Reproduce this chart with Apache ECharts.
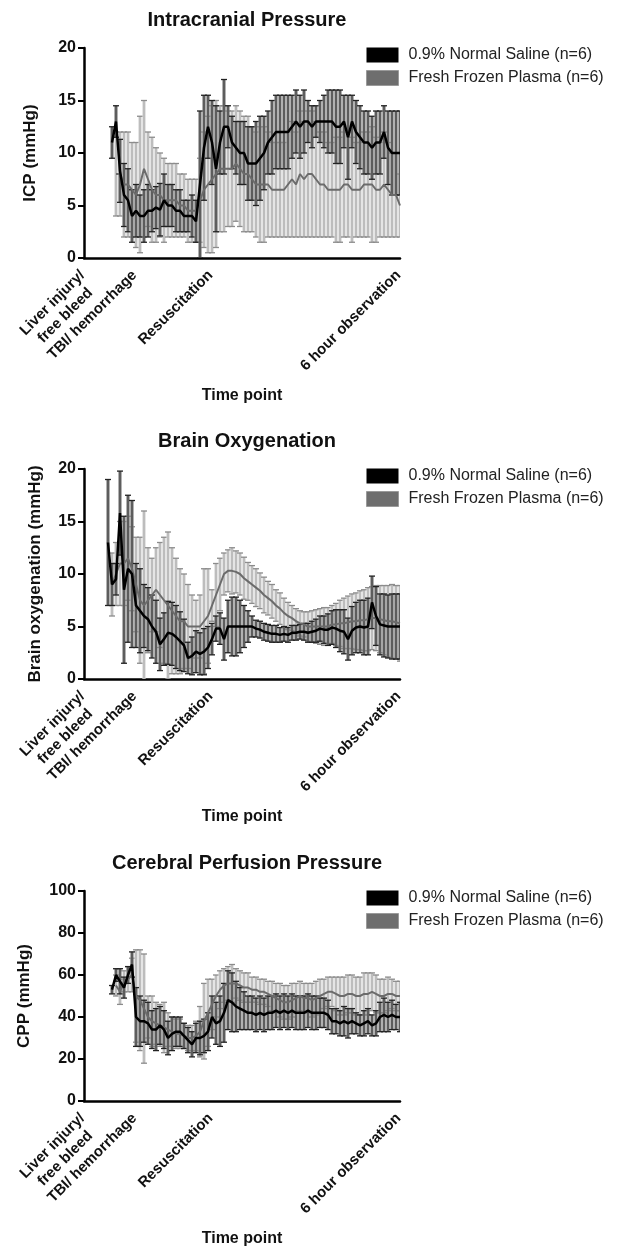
<!DOCTYPE html>
<html>
<head>
<meta charset="utf-8">
<script src="https://cdn.jsdelivr.net/npm/echarts@6/dist/echarts.min.js"></script>
<style>
  html, body { margin: 0; padding: 0; background: #fff; }
  #chart { width: 630px; height: 1247px; }
</style>
</head>
<body>
<div id="chart"></div>
<script>
/* time axis: 80 sample points, only 4 of them labelled */
var pointCount = 80;
var tickIndex = [0, 13, 32, 79];
var tickLabels = ['Liver injury/\nfree bleed', 'TBI/ hemorrhage', 'Resuscitation', '6 hour observation'];
var seriesNames = ['0.9% Normal Saline (n=6)', 'Fresh Frozen Plasma (n=6)'];

/* Intracranial pressure (mmHg) */
var icpSalineStart = 7;
var icpSalineMean = [11, 13, 8.3, 6, 5.5, 4, 4.5, 4, 4, 4.5,
  4.5, 4.8, 4.6, 5.5, 5, 5, 4.5, 4.5, 4, 4,
  4, 3.5, 7, 10.5, 12.5, 11, 8.5, 11, 12.5, 12.5,
  11, 10.5, 10, 10, 9, 9, 9, 9.5, 10, 11,
  11.5, 12, 12, 12, 12, 12.5, 13, 12.5, 13, 13,
  12.5, 13, 13, 13, 13, 13, 12.5, 12.5, 13, 11.5,
  13, 12, 11.5, 11, 11, 10.5, 11, 11, 12, 10.5,
  10, 10, 10];
var icpSalineSd = [1.5, 1.5, 3, 3, 3, 2.5, 2.5, 2, 2.5, 2.5,
  2, 2, 2.5, 2.5, 2, 2, 2, 2, 1.5, 1.5,
  2, 2, 7, 5, 3, 4, 6, 3, 4.5, 2,
  2.5, 2.5, 3, 3, 3.5, 3.5, 4, 4, 3.5, 3,
  3.5, 3.5, 3.5, 3.5, 3.5, 3, 3, 3, 3, 2,
  2, 1.5, 2, 2.5, 3, 3, 3.5, 3.5, 2.5, 4,
  2.5, 3, 3, 3, 3, 3, 3, 3, 2.5, 3.5,
  4, 4, 4];
var icpPlasmaStart = 8;
var icpPlasmaMean = [8, 8, 7, 7, 6.5, 6, 7, 8.5, 7.5, 6.5,
  6, 6, 5.5, 5.5, 5.5, 5.5, 5, 5, 4.5, 4.5,
  4.5, 5.5, 6.5, 7, 7.5, 8, 8.5, 8.5, 8.5, 8.5,
  9, 8.5, 8, 8, 7.5, 7, 7, 7, 7, 6.5,
  6.5, 6.5, 6.5, 7, 7.5, 7, 8, 7.5, 8, 8,
  7.5, 7, 7, 6.5, 6.5, 6.5, 6.5, 7, 7, 6.5,
  6.5, 6.5, 7, 7, 7, 6.5, 6.5, 7, 6.5, 6,
  6, 5];
var icpPlasmaSd = [4, 4, 5, 5, 4.5, 5, 6.5, 6.5, 4.5, 5,
  4.5, 4, 4, 3.5, 3.5, 3.5, 3, 3, 3, 3,
  3, 4, 5.5, 6.5, 7, 7, 6, 6, 5.5, 5.5,
  5.5, 5.5, 5.5, 5.5, 5, 5, 5.5, 5.5, 5, 4.5,
  4.5, 4.5, 4.5, 5, 5.5, 5, 6, 5.5, 6, 6,
  5.5, 5, 5, 4.5, 4.5, 5, 5, 5, 5, 5,
  4.5, 4.5, 5, 5, 5.5, 5, 4.5, 5, 4.5, 4,
  4, 3];

/* Brain oxygenation (mmHg) */
var bo2SalineStart = 6;
var bo2SalineMean = [13, 9, 9.5, 15.8, 8.5, 10.5, 10, 7, 6.5, 6,
  5.7, 5, 4.5, 3.3, 3.8, 4.4, 4.3, 4, 3.6, 3.2,
  2, 2.2, 2.6, 2.4, 2.6, 3, 3.8, 4.8, 4.8, 3.8,
  5, 5, 5, 5, 5, 5, 5, 4.8, 4.7, 4.5,
  4.4, 4.3, 4.3, 4.2, 4.3, 4.2, 4.4, 4.4, 4.5, 4.5,
  4.4, 4.5, 4.6, 4.8, 4.7, 4.7, 4.9, 4.8, 4.6, 4.5,
  3.8, 4.6, 4.9, 5, 4.9, 5, 7.3, 6, 5.2, 5.1,
  5, 5, 5, 5];
var bo2SalineSd = [6, 2, 1.5, 4, 7, 7, 7, 4, 4, 3,
  3, 3, 3, 2.5, 2.5, 3, 3, 3, 2.8, 2.5,
  1.5, 1.8, 2, 2, 2.2, 2, 1.5, 1.2, 1.5, 2,
  2.5, 2.8, 2.8, 2.5, 2, 1.5, 1, 0.8, 0.8, 0.8,
  0.8, 0.8, 0.8, 0.7, 0.7, 0.7, 0.7, 0.7, 0.7, 0.8,
  0.9, 1, 1.1, 1.2, 1.3, 1.5, 1.6, 1.8, 2, 2.1,
  2, 2.3, 2.4, 2.5, 2.6, 2.7, 2.5, 2.8, 2.9, 3,
  3, 3.1, 3.1, 3.1];
var bo2PlasmaStart = 7;
var bo2PlasmaMean = [9, 10, 11, 11, 11.5, 10.5, 9, 7.5, 7, 7.5,
  8, 8.5, 8, 7.5, 7, 6.5, 6, 5.5, 5.5, 5,
  5, 5, 5, 5.5, 6, 7, 8, 9, 10, 10.3,
  10.3, 10.2, 10, 9.6, 9.3, 9, 8.7, 8.4, 8, 7.7,
  7.4, 7, 6.7, 6.3, 6, 5.8, 5.5, 5.3, 5.2, 5,
  5, 5, 5, 5, 5, 5.2, 5.2, 5.3, 5.3, 5.4,
  5.5, 5.5, 5.6, 5.6, 5.7, 5.8, 5.8, 5.7, 5.6, 5.5,
  5.5, 5.4, 5.3];
var bo2PlasmaSd = [3, 3, 4, 4, 4, 4, 4.5, 6, 9, 5,
  3.5, 4, 5, 6, 7, 6, 5.5, 5, 4.5, 4,
  3, 2.5, 3, 5, 4.5, 1.5, 3, 2.5, 2, 2,
  2.2, 2, 2, 2, 1.8, 1.8, 1.8, 1.7, 1.7, 1.6,
  1.6, 1.5, 1.5, 1.4, 1.3, 1.2, 1.2, 1.2, 1.2, 1.4,
  1.5, 1.6, 1.7, 1.8, 1.8, 1.8, 2, 2.2, 2.4, 2.5,
  2.6, 2.7, 2.8, 2.9, 3, 3, 3.1, 3.2, 3.3, 3.4,
  3.5, 3.5, 3.6];

/* Cerebral perfusion pressure (mmHg) */
var cppSalineStart = 7;
var cppSalineMean = [53, 60, 57, 54, 60, 65, 40, 38, 38, 37,
  34, 34, 36, 34, 30, 32, 33, 33, 31, 29,
  27, 30, 30, 31, 33, 40, 37, 38, 42, 48,
  47, 45, 44, 43, 42, 42, 41, 42, 41, 42,
  42, 43, 42, 43, 42, 43, 42, 42, 42, 43,
  42, 42, 42, 42, 41, 38, 38, 37, 38, 37,
  38, 37, 36, 37, 38, 36, 37, 40, 41, 40,
  41, 40, 40];
var cppSalineSd = [2, 3, 6, 5, 4, 6, 14, 12, 10, 10,
  9, 10, 9, 9, 8, 8, 7, 7, 6, 6,
  6, 7, 8, 8, 9, 10, 10, 12, 14, 14,
  14, 12, 10, 9, 8, 8, 8, 8, 8, 8,
  8, 8, 8, 8, 8, 8, 8, 8, 8, 8,
  8, 8, 7, 7, 7, 6, 6, 6, 7, 7,
  6, 5, 5, 6, 6, 5, 6, 7, 8, 7,
  7, 6, 7];
var cppPlasmaStart = 8;
var cppPlasmaMean = [55, 52, 57, 58, 60, 50, 48, 44, 40, 38,
  37, 36, 35, 34, 33, 32, 32, 31, 30, 30,
  31, 33, 38, 42, 46, 50, 53, 55, 56, 56,
  56, 55, 54, 54, 53, 53, 52, 52, 51, 50,
  49, 48, 47, 47, 48, 49, 50, 49, 49, 48,
  49, 50, 51, 52, 52, 51, 50, 50, 51, 51,
  50, 50, 51, 51, 52, 51, 50, 50, 51, 51,
  50, 50];
var cppPlasmaSd = [5, 6, 5, 6, 8, 22, 24, 26, 10, 12,
  10, 10, 12, 8, 7, 7, 7, 6, 6, 6,
  7, 12, 18, 16, 12, 10, 9, 8, 8, 9,
  7, 7, 7, 7, 6, 6, 6, 6, 6, 7,
  7, 8, 8, 8, 8, 7, 7, 7, 7, 8,
  8, 8, 7, 7, 7, 8, 9, 9, 9, 9,
  9, 9, 10, 10, 9, 9, 8, 8, 8, 7,
  7, 7];

var FONT = '"Liberation Sans", Arial, Helvetica, sans-serif';

var panels = [
  { title: 'Intracranial Pressure', yName: 'ICP (mmHg)', yMax: 20, yStep: 5, top: 48, nameGap: 45,
    saline: [icpSalineStart, icpSalineMean, icpSalineSd], plasma: [icpPlasmaStart, icpPlasmaMean, icpPlasmaSd] },
  { title: 'Brain Oxygenation', yName: 'Brain oxygenation (mmHg)', yMax: 20, yStep: 5, top: 469, nameGap: 40,
    saline: [bo2SalineStart, bo2SalineMean, bo2SalineSd], plasma: [bo2PlasmaStart, bo2PlasmaMean, bo2PlasmaSd] },
  { title: 'Cerebral Perfusion Pressure', yName: 'CPP (mmHg)', yMax: 100, yStep: 20, top: 891, nameGap: 51,
    saline: [cppSalineStart, cppSalineMean, cppSalineSd], plasma: [cppPlasmaStart, cppPlasmaMean, cppPlasmaSd] }
];

var timePoints = [];
for (var t = 0; t < pointCount; t++) timePoints.push(t);

function padLine(start, mean) {
  var out = [];
  for (var i = 0; i < pointCount; i++) {
    var k = i - start;
    out.push(k >= 0 && k < mean.length ? mean[k] : null);
  }
  return out;
}

function errData(start, mean, sd) {
  return mean.map(function (m, k) { return [start + k, m - sd[k], m + sd[k]]; });
}

// 误差棒：竖条 + 上下横帽
function errorBars(fill, stroke, capColor, yMax) {
  return function (params, api) {
    var x = api.value(0), lo = api.value(1), hi = api.value(2);
    var top = api.coord([x, Math.min(hi, yMax)]);
    var bot = api.coord([x, Math.max(lo, 0)]);
    var w = api.size([1, 0])[0];
    var kids = [
      { type: 'rect', shape: { x: top[0] - w * 0.4, y: top[1], width: w * 0.8, height: bot[1] - top[1] }, style: { fill: fill } },
      { type: 'line', shape: { x1: top[0], y1: top[1], x2: top[0], y2: bot[1] }, style: { stroke: stroke, lineWidth: 1 } }
    ];
    if (hi <= yMax) kids.push({ type: 'line', shape: { x1: top[0] - 3, y1: top[1], x2: top[0] + 3, y2: top[1] }, style: { stroke: capColor, lineWidth: 1.3 } });
    if (lo >= 0) kids.push({ type: 'line', shape: { x1: bot[0] - 3, y1: bot[1], x2: bot[0] + 3, y2: bot[1] }, style: { stroke: capColor, lineWidth: 1.3 } });
    return { type: 'group', children: kids };
  };
}

var labelFont = { fontFamily: FONT, fontSize: 15, fontWeight: 'bold', color: '#111', lineHeight: 18 };

var option = { animation: false, backgroundColor: '#fff', title: [], legend: [], grid: [], xAxis: [], yAxis: [], series: [] };

panels.forEach(function (p, n) {
  option.title.push({
    text: p.title, left: 242, top: p.top - 43, textAlign: 'center',
    textStyle: { fontFamily: FONT, fontSize: 20, fontWeight: 'bold', color: '#111' }
  });
  option.legend.push({
    left: 366, top: p.top - 1, padding: 0, orient: 'vertical', icon: 'rect', itemWidth: 32, itemHeight: 15, itemGap: 7,
    selectedMode: false,
    textStyle: { fontFamily: FONT, fontSize: 16, color: '#222', padding: [0, 0, 0, 5] },
    data: [
      { name: seriesNames[0], itemStyle: { color: '#000' } },
      { name: seriesNames[1], itemStyle: { color: '#6e6e6e', borderColor: '#9a9a9a', borderWidth: 1 } }
    ]
  });
  option.grid.push({ left: 84, width: 316, top: p.top, height: 210, containLabel: false, outerBoundsMode: 'none' });
  option.xAxis.push({
    type: 'category', gridIndex: n, data: timePoints, boundaryGap: false,
    name: 'Time point', nameLocation: 'middle', nameGap: 130,
    nameTextStyle: { fontFamily: FONT, fontSize: 16, fontWeight: 'bold', color: '#111' },
    axisLine: { lineStyle: { color: '#000', width: 2.5 } },
    axisTick: { show: false },
    axisLabel: {
      interval: function (i) { return tickIndex.indexOf(i) >= 0; },
      formatter: function (v) {
        var k = tickIndex.indexOf(+v);
        if (k < 0) return '';
        var lines = tickLabels[k].split('\n');
        if (lines.length === 1) return lines[0];
        return lines.map(function (s, j) { return (j === 0 ? '{a|' : '{b|') + s + '}'; }).join('\n');
      },
      rotate: 45, align: 'right', verticalAlign: 'top', margin: 12, padding: [-8, 3, 0, 0],
      fontFamily: FONT, fontSize: 15, fontWeight: 'bold', color: '#111', lineHeight: 18,
      rich: {
        a: labelFont,
        b: echarts.util.extend({ padding: [0, 7, 0, 0] }, labelFont)
      }
    },
    splitLine: { show: false }
  });
  option.yAxis.push({
    type: 'value', gridIndex: n, min: 0, max: p.yMax, interval: p.yStep,
    name: p.yName, nameLocation: 'middle', nameGap: p.nameGap,
    nameTextStyle: { fontFamily: FONT, fontSize: 17, fontWeight: 'bold', color: '#111' },
    axisLine: { show: true, lineStyle: { color: '#000', width: 2.5 } },
    axisTick: { show: true, length: 6, lineStyle: { color: '#000', width: 2 } },
    axisLabel: { margin: 8, fontFamily: FONT, fontSize: 16, fontWeight: 'bold', color: '#111' },
    splitLine: { show: false }
  });
  option.series.push({
    name: 'plasma-err', type: 'custom', xAxisIndex: n, yAxisIndex: n, z: 1, clip: true,
    renderItem: errorBars('#d4d4d4', '#a6a6a6', '#8c8c8c', p.yMax),
    data: errData(p.plasma[0], p.plasma[1], p.plasma[2])
  });
  option.series.push({
    name: 'saline-err', type: 'custom', xAxisIndex: n, yAxisIndex: n, z: 2, clip: true,
    renderItem: errorBars('#7e7e7e', '#3c3c3c', '#222', p.yMax),
    data: errData(p.saline[0], p.saline[1], p.saline[2])
  });
  option.series.push({
    name: seriesNames[1], type: 'line', xAxisIndex: n, yAxisIndex: n, z: 3,
    showSymbol: false, symbol: 'none',
    itemStyle: { color: '#6e6e6e' }, lineStyle: { color: '#6b6b6b', width: 2 },
    data: padLine(p.plasma[0], p.plasma[1])
  });
  option.series.push({
    name: seriesNames[0], type: 'line', xAxisIndex: n, yAxisIndex: n, z: 4,
    showSymbol: false, symbol: 'none',
    itemStyle: { color: '#000' }, lineStyle: { color: '#000', width: 2.5 },
    data: padLine(p.saline[0], p.saline[1])
  });
});

var myChart = echarts.init(document.getElementById('chart'));
myChart.setOption(option);
</script>
</body>
</html>
